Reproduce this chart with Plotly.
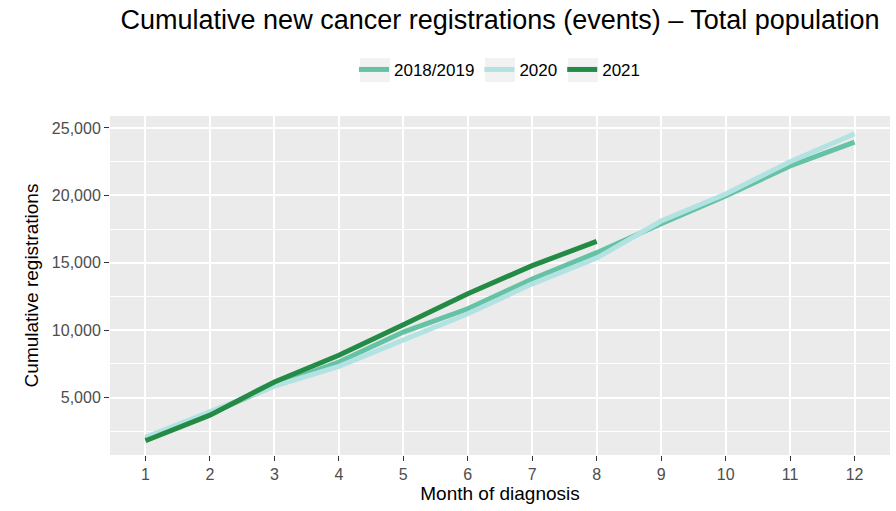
import plotly.graph_objects as go

months = list(range(1, 13))
series_names = ["2018/2019", "2020", "2021"]
vals_1819 = [1900, 3800, 5900, 7640, 9860, 11590, 13800, 15750, 17900, 19950, 22180, 23950]
vals_2020 = [2050, 3950, 5850, 7320, 9250, 11220, 13440, 15350, 18100, 20100, 22500, 24570]
vals_2021 = [1800, 3700, 6160, 8140, 10400, 12700, 14790, 16590]
y_ticks = [5000, 10000, 15000, 20000, 25000]
colors = ["#66c2a4", "#b2e2e2", "#238b45"]

fig = go.Figure()
for name, vals, col in zip(series_names, [vals_1819, vals_2020, vals_2021], colors):
    fig.add_trace(go.Scatter(x=months[:len(vals)], y=vals, mode="lines", name=name,
                             line=dict(color=col, width=5)))

# light grey legend key backgrounds (ggplot style)
L, R, T, B = 110, 890, 116, 455
for cx in [375, 500, 583]:
    fig.add_shape(type="rect", xref="paper", yref="paper",
                  x0=(cx - 15 - L) / (R - L), x1=(cx + 15 - L) / (R - L),
                  y0=(B - 82) / (B - T), y1=(B - 58) / (B - T),
                  fillcolor="#f2f2f2", line=dict(width=0), layer="below")

fig.update_layout(
    width=896, height=511,
    margin=dict(l=110, r=6, t=116, b=56, autoexpand=False),
    paper_bgcolor="white", plot_bgcolor="#ebebeb",
    font=dict(family="Liberation Sans, Arial, sans-serif", color="black"),
    title=dict(text="Cumulative new cancer registrations (events) \u2013 Total population",
               x=0.5, xref="paper", xanchor="center", y=1 - 20 / 511, yanchor="middle",
               font=dict(size=27, color="black"), automargin=False),
    legend=dict(orientation="h", x=0.5, xanchor="center", y=1.136, yanchor="middle",
                font=dict(size=17), bgcolor="rgba(0,0,0,0)", itemwidth=30),
    showlegend=True,
)
fig.update_xaxes(range=[0.45, 12.55], tickvals=months, showgrid=True, gridcolor="white", gridwidth=2,
                 zeroline=False, ticks="outside", ticklen=5, tickcolor="#333333", tickwidth=1,
                 tickfont=dict(size=16, color="#4d4d4d"), automargin=False,
                 title=dict(text="Month of diagnosis", font=dict(size=19, color="black"), standoff=4))
fig.update_yaxes(range=[741, 25889], tickvals=y_ticks, tickformat=",", showgrid=True, gridcolor="white",
                 gridwidth=2, zeroline=False, ticks="outside", ticklen=5, tickcolor="#333333", tickwidth=1,
                 tickfont=dict(size=16, color="#4d4d4d"), automargin=False,
                 minor=dict(tickvals=[2500, 7500, 12500, 17500, 22500], showgrid=True, gridcolor="white",
                            gridwidth=1, ticks=""),
                 title=dict(text="Cumulative registrations", font=dict(size=19, color="black"), standoff=8))

fig.write_html("out.html", config={"displayModeBar": False},
               post_script="document.body.style.margin='0';document.body.style.overflow='hidden';")
